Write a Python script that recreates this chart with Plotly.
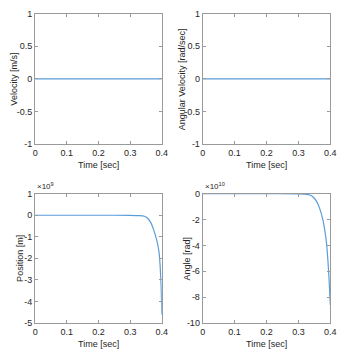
import plotly.graph_objects as go

# Simulation time samples and responses
time_flat = [0.0, 0.1, 0.2, 0.3, 0.4]
velocity = [0, 0, 0, 0, 0]                 # m/s
angular_velocity = [0, 0, 0, 0, 0]         # rad/sec

time_pos = [0.0, 0.1, 0.2, 0.3, 0.33, 0.345, 0.355, 0.365, 0.375, 0.384, 0.391, 0.395, 0.398, 0.4]
position_e9 = [0, 0, 0, -0.005, -0.02, -0.05, -0.14, -0.33, -0.7, -1.16, -1.68, -2.4, -3.3, -4.6]  # x1e9 m

time_ang = [0.0, 0.1, 0.2, 0.3, 0.32, 0.336, 0.346, 0.356, 0.366, 0.377, 0.384, 0.388, 0.392, 0.396, 0.4]
angle_e10 = [0, 0, 0, -0.01, -0.03, -0.1, -0.26, -0.56, -1.1, -2.05, -3.05, -3.8, -5.0, -6.6, -8.6]  # x1e10 rad

x_ticks = [0, 0.1, 0.2, 0.3, 0.4]
vel_ticks = [-1, -0.5, 0, 0.5, 1]
pos_ticks = [-5, -4, -3, -2, -1, 0, 1]
ang_ticks = [-10, -8, -6, -4, -2, 0]

W, H = 348, 364
LINE = "#5b9dd9"
AX = "#9a9a9a"
TXT = "#262626"
FONT = "Liberation Sans, Arial, sans-serif"

def px_x(p):
    return p / W

def px_y(p):
    return 1 - p / H

panels = [
    # (x-range px, y-range px (top,bottom), t, y, yticks, yrange, ylabel, label x px, exponent)
    ((33, 163), (9, 143), time_flat, velocity, vel_ticks, [-1, 1], "Velocity [m/s]", 11, None),
    ((205, 336), (9, 143), time_flat, angular_velocity, vel_ticks, [-1, 1], "Angular Velocity [rad/sec]", 184, None),
    ((33, 163), (194, 327), time_pos, position_e9, pos_ticks, [-5, 1], "Position [m]", 18, "9"),
    ((205, 336), (194, 327), time_ang, angle_e10, ang_ticks, [-10, 0], "Angle [rad]", 189, "10"),
]

fig = go.Figure()
annotations = []
for i, (xr, yr, t, y, yt, yrng, ylab, lab_x, expo) in enumerate(panels, start=1):
    xa = "x" if i == 1 else f"x{i}"
    ya = "y" if i == 1 else f"y{i}"
    fig.add_trace(go.Scatter(x=t, y=y, mode="lines", line=dict(color=LINE, width=1.2, shape="spline", smoothing=0.6),
                             xaxis=xa, yaxis=ya, showlegend=False))
    common = dict(showline=True, mirror="ticks", linecolor=AX, linewidth=1,
                  ticks="inside", ticklen=3, tickcolor=AX, showgrid=False, zeroline=False,
                  tickfont=dict(family=FONT, size=9, color=TXT))
    fig.update_layout(**{
        ("xaxis" if i == 1 else f"xaxis{i}"): dict(
            domain=[px_x(xr[0]), px_x(xr[1])], range=[0, 0.4], tickvals=x_ticks,
            ticktext=["0", "0.1", "0.2", "0.3", "0.4"], anchor=ya, **common),
        ("yaxis" if i == 1 else f"yaxis{i}"): dict(
            domain=[px_y(yr[1]), px_y(yr[0])], range=yrng, tickvals=yt,
            ticktext=[f"{v:g}" for v in yt], anchor=xa, **common),
    })
    annotations.append(dict(text="Time [sec]", xref="paper", yref="paper",
                            x=px_x((xr[0] + xr[1]) / 2), y=px_y(yr[1] + 22),
                            showarrow=False, font=dict(family=FONT, size=9, color=TXT),
                            xanchor="center", yanchor="middle"))
    annotations.append(dict(text=ylab, xref="paper", yref="paper", textangle=-90,
                            x=px_x(lab_x), y=px_y((yr[0] + yr[1]) / 2),
                            showarrow=False, font=dict(family=FONT, size=9, color=TXT),
                            xanchor="center", yanchor="middle"))
    if expo:
        annotations.append(dict(text=f"×10<sup>{expo}</sup>", xref="paper", yref="paper",
                                x=px_x(xr[0]), y=px_y(yr[0] - 1),
                                showarrow=False, font=dict(family=FONT, size=8, color=TXT),
                                xanchor="left", yanchor="bottom"))

fig.update_layout(width=W, height=H, margin=dict(l=0, r=0, t=0, b=0),
                  paper_bgcolor="white", plot_bgcolor="white", annotations=annotations)

fig.write_html("out.html")
